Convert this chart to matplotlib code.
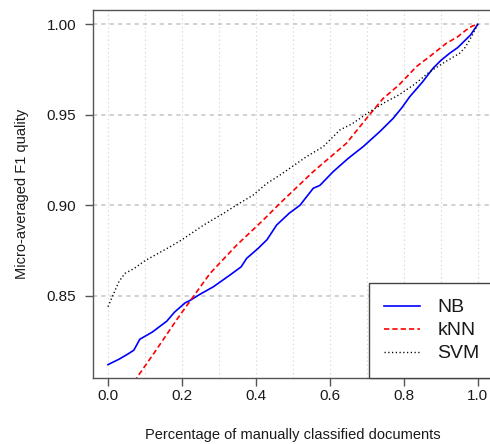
import matplotlib
matplotlib.use("Agg")
import matplotlib.pyplot as plt
from matplotlib.ticker import FixedLocator

plt.rcParams['font.family'] = ['Liberation Sans', 'DejaVu Sans']
plt.rcParams['lines.scale_dashes'] = False

# Share of documents classified by hand vs. resulting micro-averaged F1
nb_x = [0.00, 0.03, 0.055, 0.07, 0.086, 0.12, 0.159, 0.18, 0.208, 0.224, 0.25,
        0.285, 0.33, 0.36, 0.375, 0.406, 0.43, 0.456, 0.49, 0.519, 0.555,
        0.573, 0.609, 0.65, 0.69, 0.735, 0.771, 0.795, 0.816, 0.85, 0.879,
        0.90, 0.924, 0.945, 0.965, 0.98, 1.00]
nb_y = [0.812, 0.815, 0.818, 0.820, 0.826, 0.830, 0.836, 0.841, 0.846, 0.8477,
        0.851, 0.855, 0.8615, 0.866, 0.8707, 0.8762, 0.881, 0.8891, 0.8956,
        0.900, 0.9094, 0.911, 0.9186, 0.926, 0.9324, 0.9407, 0.948, 0.954,
        0.960, 0.968, 0.9757, 0.980, 0.984, 0.987, 0.991, 0.994, 1.000]

knn_x = [0.00, 0.0775, 0.13, 0.19, 0.224, 0.276, 0.348, 0.42, 0.465, 0.555,
         0.645, 0.705, 0.744, 0.787, 0.834, 0.875, 0.915, 0.945, 0.969, 0.985,
         1.00]
knn_y = [0.779, 0.8046, 0.820, 0.838, 0.8477, 0.8624, 0.878, 0.8919, 0.9011,
         0.9186, 0.9343, 0.9495, 0.959, 0.9665, 0.9766, 0.983, 0.9895, 0.993,
         0.9969, 0.999, 1.000]

svm_x = [0.00, 0.015, 0.03, 0.046, 0.07, 0.10, 0.168, 0.20, 0.258, 0.316,
         0.348, 0.393, 0.429, 0.465, 0.492, 0.537, 0.582, 0.627, 0.66, 0.708,
         0.75, 0.787, 0.83, 0.87, 0.91, 0.951, 0.965, 0.978, 1.00]
svm_y = [0.844, 0.851, 0.858, 0.8624, 0.865, 0.8694, 0.8771, 0.881, 0.889,
         0.896, 0.9002, 0.9057, 0.912, 0.9167, 0.9205, 0.9269, 0.9324, 0.9416,
         0.945, 0.9517, 0.957, 0.961, 0.967, 0.9738, 0.979, 0.984, 0.987,
         0.9913, 1.000]

x_ticks = [0.0, 0.2, 0.4, 0.6, 0.8, 1.0]
x_tick_labels = ["0.0", "0.2", "0.4", "0.6", "0.8", "1.0"]
y_ticks = [0.85, 0.90, 0.95, 1.00]
y_tick_labels = ["0.85", "0.90", "0.95", "1.00"]
x_grid = [0.0, 0.1, 0.2, 0.3, 0.4, 0.5, 0.6, 0.7, 0.8, 0.9, 1.0]

fig = plt.figure(figsize=(4.9, 4.44), dpi=100)
ax = fig.add_axes([0.1898, 0.1486, 0.8159, 0.8282])

ax.set_xlim(-0.0405, 1.0405)
ax.set_ylim(0.8046, 1.0077)

# background grid: fine dotted verticals, dashed horizontals at the ticks
for gx in x_grid:
    ax.axvline(gx, color='#d9d9d9', lw=0.8, dashes=(1, 2), zorder=0)
for gy in y_ticks:
    ax.axhline(gy, color='#c4c4c4', lw=1.1, dashes=(3, 3), zorder=0)

ax.plot(nb_x, nb_y, color='#0000ff', lw=1.2, label='NB', zorder=3)
ax.plot(knn_x, knn_y, color='#ff0000', lw=1.2, dashes=(3.8, 2.2), label='kNN', zorder=3)
ax.plot(svm_x, svm_y, color='black', lw=1.0, dashes=(0.9, 1.8), label='SVM', zorder=3)

ax.xaxis.set_major_locator(FixedLocator(x_ticks))
ax.set_xticklabels(x_tick_labels)
ax.yaxis.set_major_locator(FixedLocator(y_ticks))
ax.set_yticklabels(y_tick_labels)

for sp in ax.spines.values():
    sp.set_color('#555555')
    sp.set_linewidth(1.0)

ax.tick_params(axis='x', direction='out', length=6, width=1.0, color='#555555',
               labelsize=11, pad=2, labelcolor='#1a1a1a')
ax.tick_params(axis='y', direction='out', length=6, width=1.0, color='#555555',
               labelsize=11, pad=6, labelcolor='#1a1a1a')

ax.set_xlabel('Percentage of manually classified documents', fontsize=10.5,
              color='#1a1a1a', labelpad=18)
ax.set_ylabel('Micro-averaged F1 quality', fontsize=10.5, color='#1a1a1a',
              labelpad=13)

leg = ax.legend(loc='lower left', bbox_to_anchor=(0.690, 0.0), fontsize=14,
                frameon=True, fancybox=False, borderpad=0.8, labelspacing=0.28,
                handlelength=1.85, handletextpad=0.87, borderaxespad=0)
leg.get_frame().set_edgecolor('#444444')
leg.get_frame().set_linewidth(1.0)
leg.get_frame().set_alpha(1.0)
for t in leg.get_texts():
    t.set_color('#1a1a1a')

fig.savefig('out.png', dpi=100)
